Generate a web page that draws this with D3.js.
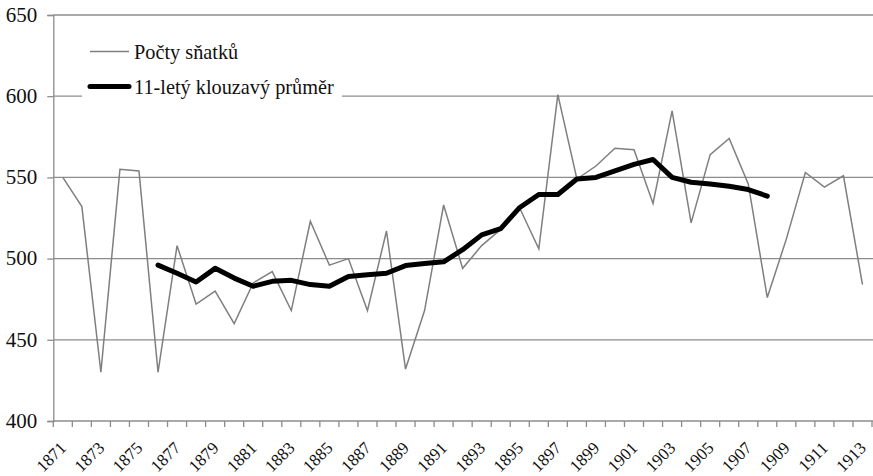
<!DOCTYPE html>
<html><head><meta charset="utf-8">
<script src="https://cdn.jsdelivr.net/npm/d3@7"></script>
<style>body{margin:0;background:#fff}svg{display:block}</style>
</head><body><svg id="c" width="873" height="476"></svg>
<script>
const years = d3.range(1871, 1914);
const marriages = [550,532,430,555,554,430,508,472,480,460,485,492,468,523,496,500,468,517,432,468,533,494,508,518,531,506,601,549,557,568,567,534,591,522,564,574,546,476,512,553,544,551,484];
const maYears = d3.range(1876, 1909);
const movingAvg = [496,491,485.6,494,488,483,486,486.6,484,483,489,490,491,495.7,497,498,505.5,514.6,518.5,531.5,539.5,539.5,549,550,554,558,561,550,547,546,544.5,542.5,538.5];
const yTicks = [400,450,500,550,600,650];
const xLabelYears = years.filter((yr,i)=>i%2===0);
const legendLabels = ["Počty sňatků","11-letý klouzavý průměr"];

(function(){
const FONT = '"Liberation Serif","Times New Roman",serif';
const svg = d3.select("#c");
const mLeft = 53.3, mRight = 872, mTop = 15, mBottom = 421;
const x = d3.scaleBand().domain(years).range([mLeft, mRight]).padding(0);
const y = d3.scaleLinear().domain([400,650]).range([mBottom, mTop]);
const cx = d => x(d) + x.bandwidth()/2;
const gridColor = "#8c8c8c";
const textColor = "#111";

svg.append("g").selectAll("line").data(yTicks.filter(t=>t>400)).join("line")
  .attr("x1", mLeft).attr("x2", 873).attr("y1", d=>y(d)).attr("y2", d=>y(d))
  .attr("stroke", gridColor).attr("stroke-width", 1.3);

const yAxis = svg.append("g").attr("transform", `translate(${mLeft},0)`)
  .call(d3.axisLeft(y).tickValues(yTicks).tickSize(6).tickPadding(10));
yAxis.attr("font-family", null);
yAxis.select(".domain").attr("stroke", gridColor).attr("stroke-width",1.3);
yAxis.selectAll(".tick line").attr("stroke", gridColor).attr("stroke-width",1.3);
yAxis.selectAll(".tick text").style("font-family", FONT).style("font-size","21px")
  .attr("fill", textColor).attr("dy","0.3em");

svg.append("line").attr("x1", mLeft).attr("x2", 873).attr("y1", mBottom).attr("y2", mBottom)
  .attr("stroke", gridColor).attr("stroke-width",1.3);
const bounds = years.map(d=>x(d)).concat([mRight]);
svg.append("g").selectAll("line").data(bounds).join("line")
  .attr("x1", d=>d).attr("x2", d=>d).attr("y1", mBottom).attr("y2", mBottom+6)
  .attr("stroke", gridColor).attr("stroke-width",1.3);
svg.append("g").selectAll("text").data(xLabelYears).join("text")
  .attr("transform", d=>`translate(${cx(d)+4.5},${mBottom+28}) rotate(-45)`)
  .attr("text-anchor","end")
  .style("font-family", FONT).style("font-size","17px").attr("fill", textColor).text(d=>d);

const line = d3.line().x(d=>cx(d[0])).y(d=>y(d[1]));
svg.append("path").datum(years.map((yr,i)=>[yr, marriages[i]]))
  .attr("d", line).attr("fill","none").attr("stroke","#7f7f7f").attr("stroke-width",1.5);
svg.append("path").datum(maYears.map((yr,i)=>[yr, movingAvg[i]]))
  .attr("d", line).attr("fill","none").attr("stroke","#000").attr("stroke-width",5)
  .attr("stroke-linejoin","round").attr("stroke-linecap","round");

const lg = svg.append("g");
lg.append("rect").attr("x",82).attr("y",32).attr("width",260).attr("height",78).attr("fill","#fff");
lg.append("line").attr("x1",90).attr("x2",129).attr("y1",51.5).attr("y2",51.5)
  .attr("stroke","#7f7f7f").attr("stroke-width",1.5);
lg.append("line").attr("x1",90).attr("x2",129).attr("y1",86.5).attr("y2",86.5)
  .attr("stroke","#000").attr("stroke-width",5).attr("stroke-linecap","round");
lg.selectAll("text").data(legendLabels).join("text")
  .attr("x",134).attr("y",(d,i)=>58.5+i*35)
  .style("font-family", FONT).style("font-size","20.3px").attr("fill", textColor).text(d=>d);
})();
</script></body></html>
